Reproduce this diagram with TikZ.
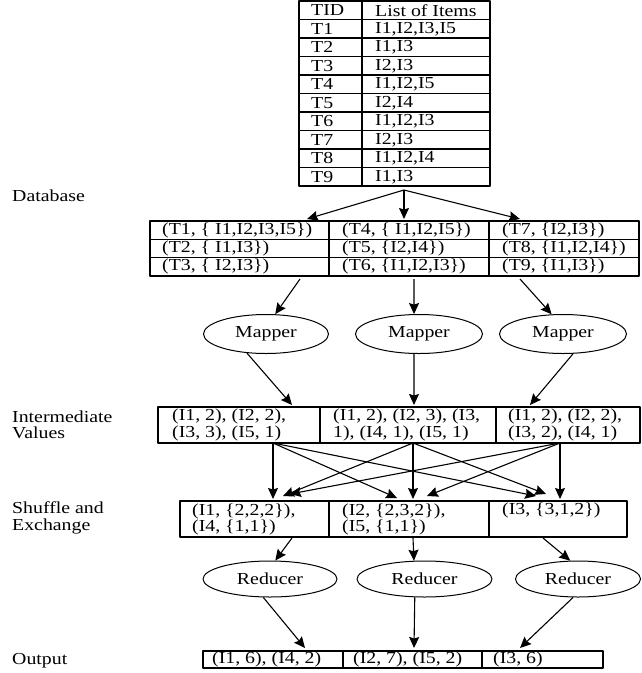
\documentclass[tikz,border=0pt]{standalone}
\usepackage{fontspec}
\setmainfont{Liberation Serif}[FakeStretch=1.18]
\usetikzlibrary{arrows.meta}
\usetikzlibrary{shapes.geometric}
\tikzset{tbl/.style={line width=1.1pt}}
\tikzset{txt/.style={anchor=west, inner sep=0pt, align=left}}
\tikzset{ell/.style={draw, ellipse, line width=1pt, inner sep=0pt}}
\tikzset{arr/.style={line width=1.1pt, -{Stealth[length=11pt, width=10pt, inset=1.5pt]}}}

\begin{document}
\begin{tikzpicture}[x=1pt, y=-1pt, line join=round, font=\fontsize{16.8}{16.5}\selectfont]
\useasboundingbox (0,0) rectangle (641,673);
% stage labels
\node[txt] (ldb) at (12,196) {Database};
\node[txt] (liv) at (12,425) {Intermediate\\Values};
\node[txt] (lse) at (12,518) {Shuffle and\\Exchange};
\node[txt] (lout) at (12,661) {Output};

% transactions
\draw[tbl] (299,1) rectangle (490,186);
\draw[tbl] (362,1) -- (362,186);
\foreach \k in {1,...,9} \draw[tbl] (299,{1+18.5*\k}) -- (490,{1+18.5*\k});
\foreach \t/\l [count=\i from 0] in {TID/List of Items, T1/{I1,I2,I3,I5}, T2/{I1,I3}, T3/{I2,I3}, T4/{I1,I2,I5}, T5/{I2,I4}, T6/{I1,I2,I3}, T7/{I2,I3}, T8/{I1,I2,I4}, T9/{I1,I3}}{
  \node[txt] (tid\i) at (311,{10.25+18.5*\i}) {\t};
  \node[txt] (itm\i) at (375,{10.25+18.5*\i}) {\l};
}
\coordinate (dbout) at (404,190);

% splits
\draw[tbl] (150,221) rectangle (639,276);
\draw[tbl] (329,221) -- (329,276) (489,221) -- (489,276);
\draw[tbl] (150,239.3) -- (639,239.3) (150,257.6) -- (639,257.6);
\node[txt] (p1) at (162,230.2) {(T1, \{ I1,I2,I3,I5\})};
\node[txt] (p2) at (162,248.5) {(T2, \{ I1,I3\})};
\node[txt] (p3) at (162,266.8) {(T3, \{ I2,I3\})};
\node[txt] (p4) at (342,230.2) {(T4, \{ I1,I2,I5\})};
\node[txt] (p5) at (342,248.5) {(T5, \{I2,I4\})};
\node[txt] (p6) at (342,266.8) {(T6, \{I1,I2,I3\})};
\node[txt] (p7) at (502,230.2) {(T7, \{I2,I3\})};
\node[txt] (p8) at (502,248.5) {(T8, \{I1,I2,I4\})};
\node[txt] (p9) at (502,266.8) {(T9, \{I1,I3\})};
\coordinate (in1) at (307,219);
\coordinate (in2) at (404,219);
\coordinate (in3) at (520,219);
\coordinate (pout1) at (300,279);
\coordinate (pout2) at (414,279);
\coordinate (pout3) at (520,279);
\draw[arr] (dbout) -- (in1);
\draw[arr] (dbout) -- (in2);
\draw[arr] (dbout) -- (in3);

% mappers
\node[ell, minimum width=125, minimum height=39] (map1) at (266,334) {Mapper};
\node[ell, minimum width=127, minimum height=39] (map2) at (419,334) {Mapper};
\node[ell, minimum width=127, minimum height=39] (map3) at (563,334) {Mapper};
\draw[arr] (pout1) -- (map1.65);
\draw[arr] (pout2) -- (map2.104);
\draw[arr] (pout3) -- (map3.120);

% intermediate values
\draw[tbl] (158,407) rectangle (640,443);
\draw[tbl] (320,407) -- (320,443) (496,407) -- (496,443);
\node[txt] (iv1) at (172,425) {(I1, 2), (I2, 2),\\(I3, 3), (I5, 1)};
\node[txt] (iv2) at (333,425) {(I1, 2), (I2, 3), (I3,\\1), (I4, 1), (I5, 1)};
\node[txt] (iv3) at (508,425) {(I1, 2), (I2, 2),\\(I3, 2), (I4, 1)};
\coordinate (ivin1) at (292,405);
\coordinate (ivin2) at (414,405);
\coordinate (ivin3) at (530,405);
\draw[arr] (map1.225) -- (ivin1);
\draw[arr] (map2.256) -- (ivin2);
\draw[arr] (map3.297) -- (ivin3);

% shuffle
\coordinate (s1) at (273,443);
\coordinate (s2) at (413,443);
\coordinate (s3) at (560,443);
\coordinate (u11) at (273,499);
\coordinate (u21) at (283,496);
\coordinate (u31) at (290,494);
\coordinate (u12) at (397,498);
\coordinate (u22) at (413,499);
\coordinate (u32) at (427,496);
\coordinate (u13) at (536,496);
\coordinate (u23) at (546,494);
\coordinate (u33) at (560,499);
\foreach \a in {1,2,3}
  \foreach \b in {1,2,3}
    \draw[arr] (s\a) -- (u\a\b);

\draw[tbl] (180,501) rectangle (627,537);
\draw[tbl] (329,501) -- (329,537) (489,501) -- (489,537);
\node[txt] (sh1) at (192,519.5) {(I1, \{2,2,2\}),\\(I4, \{1,1\})};
\node[txt] (sh2) at (342,519.5) {(I2, \{2,3,2\}),\\(I5, \{1,1\})};
\node[txt] (sh3) at (502,510.5) {(I3, \{3,1,2\})};
\coordinate (shout1) at (292,538);
\coordinate (shout2) at (413,538);
\coordinate (shout3) at (543,538);

% reducers
\node[ell, minimum width=134, minimum height=36] (red1) at (270,579) {Reducer};
\node[ell, minimum width=135, minimum height=36] (red2) at (424.5,579) {Reducer};
\node[ell, minimum width=125, minimum height=36] (red3) at (578,579) {Reducer};
\draw[arr] (shout1) -- (red1.74);
\draw[arr] (shout2) -- (red2.120);
\draw[arr] (shout3) -- (red3.113);

% output
\draw[tbl] (203,651) rectangle (603,668);
\draw[tbl] (343,651) -- (343,668) (482,651) -- (482,668);
\node[txt] (out1) at (212,659.5) {(I1, 6), (I4, 2)};
\node[txt] (out2) at (353,659.5) {(I2, 7), (I5, 2)};
\node[txt] (out3) at (493,659.5) {(I3, 6)};
\coordinate (oin1) at (305,648);
\coordinate (oin2) at (414,648);
\coordinate (oin3) at (520,648);
\draw[arr] (red1.250) -- (oin1);
\draw[arr] (red2.242) -- (oin2);
\draw[arr] (red3.255) -- (oin3);
\end{tikzpicture}
\end{document}
